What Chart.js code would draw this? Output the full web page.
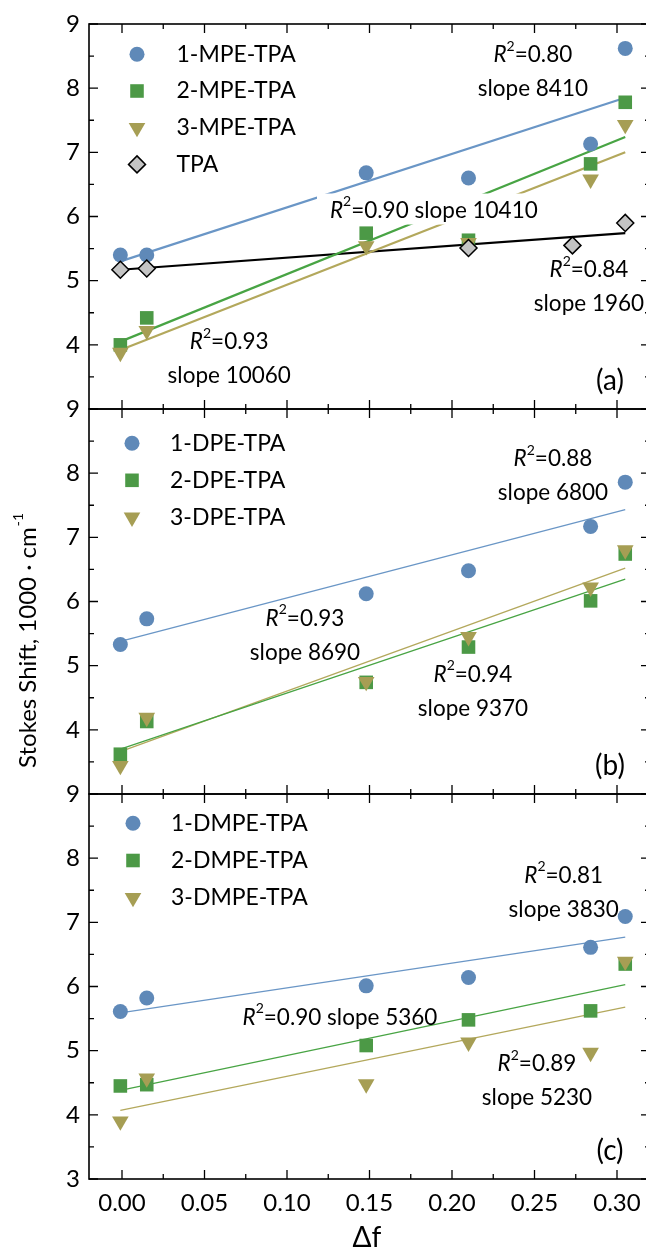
<!DOCTYPE html>
<html><head><meta charset="utf-8">
<script src="https://cdn.jsdelivr.net/npm/chart.js@4.4.1/dist/chart.umd.min.js"></script>
<style>
html,body{margin:0;padding:0;background:#fff;overflow:hidden;width:646px;height:1249px;position:relative;}
canvas{position:absolute;left:0;}
</style></head><body>
<canvas id="ca" width="660" height="421" style="top:0px"></canvas>
<canvas id="cb" width="660" height="409" style="top:397px"></canvas>
<canvas id="cc" width="660" height="467" style="top:782px"></canvas>
<script>
// ---------- data ----------
const deltaF     = [-0.001, 0.015, 0.148, 0.210, 0.284, 0.305];
const deltaF_TPA = [-0.001, 0.015, 0.210, 0.273, 0.305];

const mpe1 = [5.40, 5.40, 6.68, 6.60, 7.13, 8.62];
const mpe2 = [4.00, 4.42, 5.74, 5.63, 6.82, 7.78];
const mpe3 = [3.88, 4.22, 5.54, 5.59, 6.58, 7.43];
const tpa  = [5.17, 5.19, 5.51, 5.55, 5.90];

const dpe1 = [5.33, 5.73, 6.12, 6.48, 7.17, 7.86];
const dpe2 = [3.62, 4.13, 4.74, 5.29, 6.01, 6.74];
const dpe3 = [3.44, 4.19, 4.75, 5.45, 6.22, 6.80];

const dmpe1 = [5.61, 5.82, 6.01, 6.14, 6.61, 7.09];
const dmpe2 = [4.45, 4.47, 5.08, 5.48, 5.62, 6.35];
const dmpe3 = [3.90, 4.57, 4.48, 5.13, 4.97, 6.39];

// linear-fit end points (at fitX[0] and fitX[1])
const fitX = [-0.001, 0.305];
const fitMpe1 = [5.30, 7.85];
const fitMpe2 = [4.05, 7.24];
const fitMpe3 = [3.92, 7.00];
const fitTpa  = [5.17, 5.74];
const fitDpe1 = [5.38, 7.43];
const fitDpe2 = [3.70, 6.35];
const fitDpe3 = [3.66, 6.52];
const fitDmpe1 = [5.59, 6.77];
const fitDmpe2 = [4.38, 6.03];
const fitDmpe3 = [4.07, 5.68];

const namesA = ['1-MPE-TPA', '2-MPE-TPA', '3-MPE-TPA', 'TPA'];
const namesB = ['1-DPE-TPA', '2-DPE-TPA', '3-DPE-TPA'];
const namesC = ['1-DMPE-TPA', '2-DMPE-TPA', '3-DMPE-TPA'];

const xTickValues = [0, 0.05, 0.10, 0.15, 0.20, 0.25, 0.30];
const xTickLabels = ['0.00', '0.05', '0.10', '0.15', '0.20', '0.25', '0.30'];
const xMinorValues = [0.025, 0.075, 0.125, 0.175, 0.225, 0.275];
const yTickValues = [3, 4, 5, 6, 7, 8, 9];
const yTickLabelsUpper = ['', '4', '5', '6', '7', '8', '9'];
const yTickLabelsLower = ['3', '4', '5', '6', '7', '8', '9'];
const yMinorValues = [3.5, 4.5, 5.5, 6.5, 7.5, 8.5];

const notesA = [
  {x: 0.249, y: 8.25, lines: ['R^2=0.80', 'slope 8410']},
  {x: 0.189, y: 6.093, lines: ['R^2=0.90 slope 10410'], bg: true},
  {x: 0.283, y: 4.90, lines: ['R^2=0.84', 'slope 1960']},
  {x: 0.065, y: 3.776, lines: ['R^2=0.93', 'slope 10060']}
];
const notesB = [
  {x: 0.2612, y: 7.953, lines: ['R^2=0.88', 'slope 6800']},
  {x: 0.1109, y: 5.470, lines: ['R^2=0.93', 'slope 8690']},
  {x: 0.2127, y: 4.598, lines: ['R^2=0.94', 'slope 9370']}
];
const notesC = [
  {x: 0.2677, y: 7.467, lines: ['R^2=0.81', 'slope 3830']},
  {x: 0.1321, y: 5.517, lines: ['R^2=0.90 slope 5360']},
  {x: 0.2515, y: 4.534, lines: ['R^2=0.89', 'slope 5230']}
];

// ---------- styles ----------
const FONT = 'Lato, "Open Sans", "DejaVu Sans", sans-serif';
const S_BLUE  = {shape: 'circle',   r: 7.5, rot: 0,   fill: '#5f89b8', edge: '#5f89b8', bw: 0};
const S_GREEN = {shape: 'rect',     r: 9.6, rot: 0,   fill: '#4c9946', edge: '#4c9946', bw: 0};
const S_OLIVE = {shape: 'triangle', r: 9.6, rot: 180, fill: '#a69e54', edge: '#a69e54', bw: 0};
const S_TPA   = {shape: 'rectRot',  r: 8.5, rot: 0,   fill: '#c4c4c4', edge: '#000000', bw: 1.5};
const L_BLUE = '#6a96c6', L_GREEN = '#48a444', L_OLIVE = '#b3a85c', L_BLACK = '#000000';

function pts(xs, ys) { return xs.map((x, i) => ({x: x, y: ys[i]})); }
function markerSet(label, xs, ys, st, order) {
  return {label: label, data: pts(xs, ys), showLine: false,
    pointStyle: st.shape, pointRadius: st.r, pointHoverRadius: st.r, pointRotation: st.rot,
    backgroundColor: st.fill, borderColor: st.edge, borderWidth: st.bw,
    pointBackgroundColor: st.fill, pointBorderColor: st.edge, pointBorderWidth: st.bw, order: order};
}
function fitSet(ys, color, w) {
  return {label: 'fit', data: pts(fitX, ys), showLine: true, pointRadius: 0, pointHoverRadius: 0,
    borderColor: color, borderWidth: w, fill: false, order: 10};
}

function drawMarker(ctx, st, x, y) {
  ctx.save();
  ctx.fillStyle = st.fill; ctx.strokeStyle = st.edge; ctx.lineWidth = st.bw;
  ctx.beginPath();
  const r = st.r;
  if (st.shape === 'circle') { ctx.arc(x, y, r, 0, Math.PI * 2); }
  else if (st.shape === 'rect') { const s = r * Math.SQRT1_2; ctx.rect(x - s, y - s, 2 * s, 2 * s); }
  else if (st.shape === 'triangle') {
    ctx.moveTo(x, y + r);
    ctx.lineTo(x - r * Math.sin(Math.PI / 3), y - r / 2);
    ctx.lineTo(x + r * Math.sin(Math.PI / 3), y - r / 2);
    ctx.closePath();
  } else if (st.shape === 'rectRot') {
    ctx.moveTo(x, y - r); ctx.lineTo(x + r, y); ctx.lineTo(x, y + r); ctx.lineTo(x - r, y); ctx.closePath();
  }
  ctx.fill();
  if (st.bw > 0) ctx.stroke();
  ctx.restore();
}

function drawRich(ctx, s, cx, cy, fs) {
  const parts = [];
  if (s.indexOf('R^2') === 0) {
    parts.push({t: 'R', f: 'italic ' + fs + 'px ' + FONT, dy: 0});
    parts.push({t: '2', f: Math.round(fs * 0.6) + 'px ' + FONT, dy: -fs * 0.38});
    parts.push({t: s.slice(3), f: fs + 'px ' + FONT, dy: 0});
  } else {
    parts.push({t: s, f: fs + 'px ' + FONT, dy: 0});
  }
  let w = 0;
  parts.forEach(p => { ctx.font = p.f; p.w = ctx.measureText(p.t).width; w += p.w; });
  let x = cx - w / 2;
  ctx.textAlign = 'left'; ctx.textBaseline = 'middle'; ctx.fillStyle = '#000';
  parts.forEach(p => { ctx.font = p.f; ctx.fillText(p.t, x, cy + p.dy); x += p.w; });
  return w;
}

const panelCfg = {
  ca: {names: namesA, styles: [S_BLUE, S_GREEN, S_OLIVE, S_TPA], legend: {mx: 48, tx: 87.5, y0: 30.3, dy: 36.7}, notes: notesA, tag: '(a)'},
  cb: {names: namesB, styles: [S_BLUE, S_GREEN, S_OLIVE], legend: {mx: 43, tx: 81, y0: 34.3, dy: 37}, notes: notesB, tag: '(b)', ytitle: true},
  cc: {names: namesC, styles: [S_BLUE, S_GREEN, S_OLIVE], legend: {mx: 44, tx: 82, y0: 29.3, dy: 37.2}, notes: notesC, tag: '(c)', xtitle: true}
};

const decor = {
  id: 'decor',
  beforeDatasetsDraw(chart) {
    const ctx = chart.ctx, a = chart.chartArea, xs = chart.scales.x, ys = chart.scales.y;
    ctx.save();
    ctx.strokeStyle = '#000';
    ctx.lineWidth = 1.3;
    ctx.beginPath();
    const seg = (x0, y0, x1, y1) => { ctx.moveTo(x0, y0); ctx.lineTo(x1, y1); };
    xTickValues.forEach(v => { const p = xs.getPixelForValue(v); seg(p, a.bottom, p, a.bottom - 9); seg(p, a.top, p, a.top + 9); });
    xMinorValues.forEach(v => { const p = xs.getPixelForValue(v); seg(p, a.bottom, p, a.bottom - 5); seg(p, a.top, p, a.top + 5); });
    yTickValues.forEach(v => { const p = ys.getPixelForValue(v); seg(a.left, p, a.left + 9, p); seg(a.right, p, a.right - 9, p); });
    yMinorValues.forEach(v => { const p = ys.getPixelForValue(v); seg(a.left, p, a.left + 5, p); seg(a.right, p, a.right - 5, p); });
    ctx.stroke();
    ctx.lineWidth = 1.6;
    ctx.strokeRect(a.left, a.top, a.right - a.left, a.bottom - a.top);
    ctx.restore();
  },
  afterDatasetsDraw(chart) {
    const cfg = panelCfg[chart.canvas.id];
    const ctx = chart.ctx, a = chart.chartArea, xs = chart.scales.x, ys = chart.scales.y;
    ctx.save();
    // annotations
    cfg.notes.forEach(n => {
      const cx = xs.getPixelForValue(n.x), cy = ys.getPixelForValue(n.y);
      const lh = 34;
      const y0 = cy - (n.lines.length - 1) * lh / 2;
      if (n.bg) {
        ctx.font = '22px ' + FONT;
        const w = ctx.measureText(n.lines[0]).width + 12;
        ctx.fillStyle = '#fff';
        ctx.fillRect(cx - w / 2, cy - 17, w, 31);
      }
      n.lines.forEach((t, i) => drawRich(ctx, t, cx, y0 + i * lh, 22.5));
    });
    // legend
    const L = cfg.legend;
    cfg.names.forEach((nm, i) => {
      const y = a.top + L.y0 + i * L.dy;
      drawMarker(ctx, cfg.styles[i], a.left + L.mx, y);
      ctx.font = '23px ' + FONT; ctx.fillStyle = '#000';
      ctx.textAlign = 'left'; ctx.textBaseline = 'middle';
      ctx.fillText(nm, a.left + L.tx, y);
    });
    // panel tag
    ctx.font = '28px ' + FONT; ctx.fillStyle = '#000';
    ctx.textAlign = 'center'; ctx.textBaseline = 'middle';
    ctx.fillText(cfg.tag, 610, a.bottom - 28);
    // y title
    if (cfg.ytitle) {
      ctx.save();
      ctx.translate(28, 371);
      ctx.rotate(-Math.PI / 2);
      ctx.font = '24px ' + FONT; ctx.textAlign = 'left'; ctx.textBaseline = 'middle';
      const main = 'Stokes Shift, 1000 \u00b7 cm';
      ctx.fillText(main, 0, 0);
      const w = ctx.measureText(main).width;
      ctx.font = '14px ' + FONT;
      ctx.fillText('-1', w + 1, -10);
      ctx.restore();
    }
    if (cfg.xtitle) {
      ctx.font = '28px ' + FONT; ctx.textAlign = 'center'; ctx.textBaseline = 'middle';
      ctx.fillText('\u0394f', (a.left + 645) / 2, 456);
    }
    ctx.restore();
  }
};

function makeChart(id, datasets, pad, yLabels, showX) {
  return new Chart(document.getElementById(id), {
    type: 'scatter',
    data: {datasets: datasets},
    options: {
      responsive: false, animation: false, devicePixelRatio: 1,
      layout: {padding: {left: 0, right: 10, top: pad[0], bottom: pad[1]}},
      plugins: {legend: {display: false}, tooltip: {enabled: false}},
      events: [],
      scales: {
        x: {
          type: 'linear', min: -0.02, max: 0.32, display: showX,
          grid: {display: false, drawTicks: false}, border: {display: false},
          afterBuildTicks: s => { s.ticks = xTickValues.map(v => ({value: v})); },
          afterFit: s => { if (showX) s.height = 70; s.paddingLeft = 0; s.paddingRight = 0; },
          ticks: {autoSkip: false, maxRotation: 0, padding: 10, color: '#000',
            font: {family: FONT, size: 24}, callback: (v, i) => xTickLabels[i]}
        },
        y: {
          type: 'linear', min: 3, max: 9,
          grid: {display: false, drawTicks: false}, border: {display: false},
          afterBuildTicks: s => { s.ticks = yTickValues.map(v => ({value: v})); },
          afterFit: s => { s.width = 89; s.paddingTop = 0; s.paddingBottom = 0; },
          ticks: {autoSkip: false, padding: 9, color: '#000',
            font: {family: FONT, size: 24}, callback: (v, i) => yLabels[i]}
        }
      }
    },
    plugins: [decor]
  });
}

makeChart('ca', [
  markerSet(namesA[0], deltaF, mpe1, S_BLUE, 4),
  markerSet(namesA[1], deltaF, mpe2, S_GREEN, 3),
  markerSet(namesA[2], deltaF, mpe3, S_OLIVE, 2),
  markerSet(namesA[3], deltaF_TPA, tpa, S_TPA, 1),
  fitSet(fitMpe1, L_BLUE, 2.2), fitSet(fitMpe2, L_GREEN, 2.2),
  fitSet(fitMpe3, L_OLIVE, 2.2), fitSet(fitTpa, L_BLACK, 2.2)
], [24, 12], yTickLabelsUpper, false);

makeChart('cb', [
  markerSet(namesB[0], deltaF, dpe1, S_BLUE, 4),
  markerSet(namesB[1], deltaF, dpe2, S_GREEN, 3),
  markerSet(namesB[2], deltaF, dpe3, S_OLIVE, 2),
  fitSet(fitDpe1, L_BLUE, 1.3), fitSet(fitDpe2, L_GREEN, 1.3), fitSet(fitDpe3, L_OLIVE, 1.3)
], [12, 12], yTickLabelsUpper, false);

makeChart('cc', [
  markerSet(namesC[0], deltaF, dmpe1, S_BLUE, 4),
  markerSet(namesC[1], deltaF, dmpe2, S_GREEN, 3),
  markerSet(namesC[2], deltaF, dmpe3, S_OLIVE, 2),
  fitSet(fitDmpe1, L_BLUE, 1.3), fitSet(fitDmpe2, L_GREEN, 1.3), fitSet(fitDmpe3, L_OLIVE, 1.3)
], [12, 0], yTickLabelsLower, true);
</script>
</body></html>
